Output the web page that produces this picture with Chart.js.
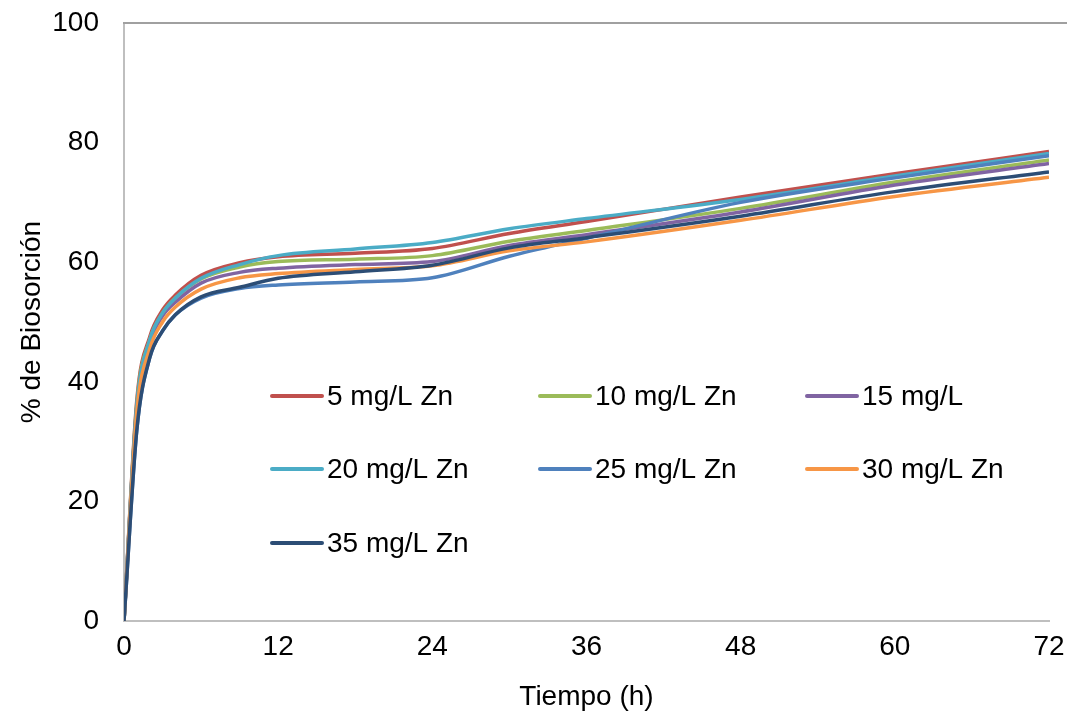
<!DOCTYPE html>
<html>
<head>
<meta charset="utf-8">
<script src="https://cdn.jsdelivr.net/npm/chart.js@4"></script>
<style>
  html, body { margin: 0; padding: 0; background: #fff; }
  .chart-container { position: relative; width: 1067px; height: 715px; }
</style>
</head>
<body>
<div class="chart-container">
  <canvas id="my-chart"></canvas>
</div>
<script>
// tiempo (h)
const hours = [0, 1, 2, 3, 4, 6, 9, 12, 18, 24, 30, 36, 48, 60, 72];

// % de biosorcion por concentracion
const zn5  = [0, 37.0, 47.5, 52.0, 54.5, 57.8, 59.9, 60.9, 61.5, 62.3, 64.8, 66.8, 70.9, 74.8, 78.5];
const zn10 = [0, 36.5, 47.0, 51.5, 54.0, 57.2, 59.2, 60.1, 60.5, 61.1, 63.5, 65.3, 69.0, 73.4, 77.1];
const zn15 = [0, 36.0, 46.5, 51.0, 53.3, 56.5, 58.3, 59.0, 59.6, 60.1, 62.8, 64.6, 68.4, 72.9, 76.5];
const zn20 = [0, 36.0, 47.0, 51.5, 54.0, 57.3, 59.6, 61.1, 62.2, 63.3, 65.6, 67.3, 70.5, 74.4, 78.2];
const zn25 = [0, 32.0, 44.0, 48.5, 51.2, 54.0, 55.6, 56.2, 56.7, 57.4, 61.0, 64.0, 70.0, 74.1, 77.8];
const zn30 = [0, 35.0, 45.5, 50.0, 52.5, 55.5, 57.4, 58.1, 58.8, 59.4, 61.9, 63.4, 67.0, 71.0, 74.2];
const zn35 = [0, 32.0, 44.0, 48.5, 51.2, 54.2, 55.8, 57.3, 58.4, 59.5, 62.4, 64.1, 67.7, 71.8, 75.1];

const seriesNames = ['5 mg/L Zn', '10 mg/L Zn', '15 mg/L', '20 mg/L Zn', '25 mg/L Zn', '30 mg/L Zn', '35 mg/L Zn'];
const seriesValues = [zn5, zn10, zn15, zn20, zn25, zn30, zn35];
const seriesColors = ['#C0504D', '#9BBB59', '#8064A2', '#4BACC6', '#4F81BD', '#F79646', '#2C4D75'];

const xTicks = [0, 12, 24, 36, 48, 60, 72];
const yTicks = [0, 20, 40, 60, 80, 100];

const FONT = "'Liberation Sans', Arial, sans-serif";

// legend boxes inside the plot, 3 columns
const legendSlots = [
  [270, 396], [538, 396], [805, 396],
  [270, 469], [538, 469], [805, 469],
  [270, 543]
];

const insideLegend = {
  id: 'insideLegend',
  afterDraw(chart) {
    const ctx = chart.ctx;
    ctx.save();
    chart.data.datasets.forEach((ds, i) => {
      const [x, y] = legendSlots[i];
      ctx.strokeStyle = ds.borderColor;
      ctx.lineWidth = 4;
      ctx.lineCap = 'round';
      ctx.beginPath();
      ctx.moveTo(x + 2, y);
      ctx.lineTo(x + 52, y);
      ctx.stroke();
      ctx.fillStyle = '#000';
      ctx.font = '28px ' + FONT;
      ctx.textBaseline = 'middle';
      ctx.textAlign = 'left';
      ctx.fillText(ds.label, x + 57, y + 1);
    });
    ctx.restore();
  }
};

const topBorder = {
  id: 'topBorder',
  beforeDatasetsDraw(chart) {
    const ctx = chart.ctx;
    const a = chart.chartArea;
    ctx.save();
    ctx.strokeStyle = '#A0A0A0';
    ctx.lineWidth = 2;
    ctx.beginPath();
    ctx.moveTo(a.left - 1, a.top);
    ctx.lineTo(chart.width, a.top);
    ctx.stroke();
    ctx.restore();
  }
};

const canvas = document.getElementById('my-chart');
const ctx = canvas.getContext('2d');

const chart = new Chart(ctx, {
  type: 'line',
  data: {
    datasets: seriesNames.map((name, i) => ({
      label: name,
      data: hours.map((h, k) => ({ x: h, y: seriesValues[i][k] })),
      borderColor: seriesColors[i],
      backgroundColor: seriesColors[i],
      borderWidth: 3.5,
      pointRadius: 0,
      cubicInterpolationMode: 'monotone',
      fill: false,
      order: seriesNames.length - i
    }))
  },
  options: {
    animation: false,
    responsive: true,
    maintainAspectRatio: false,
    layout: { padding: { top: 23, right: 18, left: 0, bottom: 0 } },
    plugins: {
      legend: { display: false },
      tooltip: { enabled: false }
    },
    scales: {
      x: {
        type: 'linear',
        min: 0,
        max: 72,
        afterBuildTicks(scale) { scale.ticks = xTicks.map(v => ({ value: v })); },
        afterFit(scale) {
          scale.height = 94;
          scale.paddingLeft = 0;
          scale.paddingRight = 0;
        },
        grid: { display: false, drawTicks: false },
        border: { display: true, color: '#BFBFBF', width: 2 },
        ticks: {
          padding: 9,
          color: '#000',
          font: { family: FONT, size: 28 }
        },
        title: {
          display: true,
          text: 'Tiempo (h)',
          color: '#000',
          padding: 1,
          font: { family: FONT, size: 28 }
        }
      },
      y: {
        min: 0,
        max: 100,
        afterBuildTicks(scale) { scale.ticks = yTicks.map(v => ({ value: v })); },
        afterFit(scale) {
          scale.width = 124;
          scale.paddingTop = 0;
          scale.paddingBottom = 0;
        },
        grid: { display: false, drawTicks: false },
        border: { display: true, color: '#BFBFBF', width: 2 },
        ticks: {
          padding: 25,
          color: '#000',
          font: { family: FONT, size: 28 }
        },
        title: {
          display: true,
          text: '% de Biosorción',
          color: '#000',
          padding: 15,
          font: { family: FONT, size: 28 }
        }
      }
    }
  },
  plugins: [insideLegend, topBorder]
});
</script>
</body>
</html>
